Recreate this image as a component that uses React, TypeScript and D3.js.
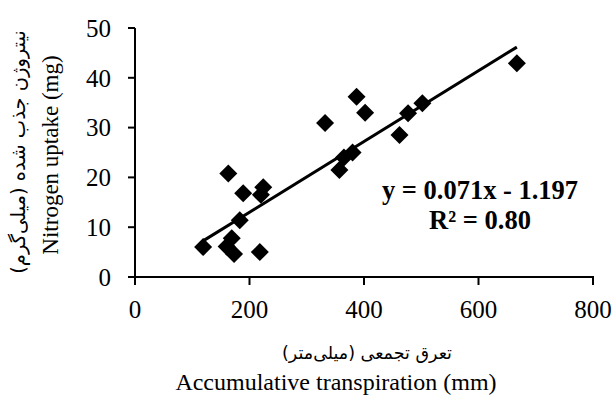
import React from "react";
import * as d3 from "d3";

const transpiration = [119, 163, 189, 224, 220, 183, 169, 160, 173, 218, 332, 357, 365, 380, 387, 402, 462, 477, 502, 667];
const nitrogen = [6.0, 20.8, 16.8, 18.0, 16.5, 11.4, 7.8, 6.1, 4.6, 5.0, 30.9, 21.5, 24.0, 25.0, 36.2, 33.0, 28.5, 32.9, 34.9, 42.9];
const xTicks = [0, 200, 400, 600, 800];
const yTicks = [0, 10, 20, 30, 40, 50];
const slope = 0.071;
const intercept = -1.197;
const equationText = "y = 0.071x - 1.197";
const r2Text = "R² = 0.80";
const xTitleFa = "تعرق تجمعی (میلی‌متر)";
const xTitleEn = "Accumulative transpiration (mm)";
const yTitleFa = "نیتروژن جذب شده (میلی‌گرم)";
const yTitleEn = "Nitrogen uptake (mg)";

const W = 615;
const H = 396;
const left = 135;
const right = 593;
const top = 28;
const bottom = 277;

export default function App() {
  const x = d3.scaleLinear().domain([0, 800]).range([left, right]);
  const y = d3.scaleLinear().domain([0, 50]).range([bottom, top]);
  const font = "'Liberation Serif', 'Times New Roman', serif";
  const faFont = "'DejaVu Sans', sans-serif";
  const xMin = d3.min(transpiration) as number;
  const xMax = d3.max(transpiration) as number;
  const fit = [xMin, xMax].map((v) => [v, slope * v + intercept] as [number, number]);
  const line = d3
    .line<[number, number]>()
    .x((d) => x(d[0]))
    .y((d) => y(d[1]));
  const r = 9;
  return (
    <svg width={W} height={H} style={{ position: "absolute", left: 0, top: 0 }}>
      <rect width={W} height={H} fill="white" />
      {/* axes */}
      <line x1={left} x2={left} y1={top} y2={bottom} stroke="black" strokeWidth={2} />
      <line x1={left} x2={right + 1} y1={bottom} y2={bottom} stroke="black" strokeWidth={2} />
      {yTicks.map((t) => (
        <g key={"y" + t}>
          <line x1={left - 7} x2={left} y1={y(t)} y2={y(t)} stroke="black" strokeWidth={2} />
          <text x={111} y={y(t)} dy="0.35em" textAnchor="end" fontFamily={font} fontSize={25}>
            {t}
          </text>
        </g>
      ))}
      {xTicks.map((t) => (
        <g key={"x" + t}>
          <line x1={x(t)} x2={x(t)} y1={bottom} y2={bottom + 8} stroke="black" strokeWidth={2} />
          <text x={x(t)} y={318} textAnchor="middle" fontFamily={font} fontSize={25}>
            {t}
          </text>
        </g>
      ))}
      {/* points */}
      {transpiration.map((tv, i) => {
        const cx = x(tv);
        const cy = y(nitrogen[i]);
        return (
          <path
            key={i}
            d={`M${cx},${cy - r}L${cx + r},${cy}L${cx},${cy + r}L${cx - r},${cy}Z`}
            fill="black"
          />
        );
      })}
      {/* trend line */}
      <path d={line(fit) || ""} fill="none" stroke="black" strokeWidth={3} />
      {/* equation */}
      <text x={480} y={199} textAnchor="middle" fontFamily={font} fontSize={26.5} fontWeight="bold">
        {equationText}
      </text>
      <text x={480} y={229} textAnchor="middle" fontFamily={font} fontSize={26.5} fontWeight="bold">
        {r2Text}
      </text>
      {/* x titles */}
      <text x={367} y={359} textAnchor="middle" fontFamily={faFont} fontSize={17.5} direction="rtl">
        {xTitleFa}
      </text>
      <text x={336} y={390} textAnchor="middle" fontFamily={font} fontSize={24}>
        {xTitleEn}
      </text>
      {/* y titles */}
      <text
        transform={`translate(25,152) rotate(-90)`}
        textAnchor="middle"
        fontFamily={faFont}
        fontSize={19.5}
        direction="rtl"
      >
        {yTitleFa}
      </text>
      <text
        transform={`translate(58,155) rotate(-90)`}
        textAnchor="middle"
        fontFamily={font}
        fontSize={23}
      >
        {yTitleEn}
      </text>
    </svg>
  );
}
